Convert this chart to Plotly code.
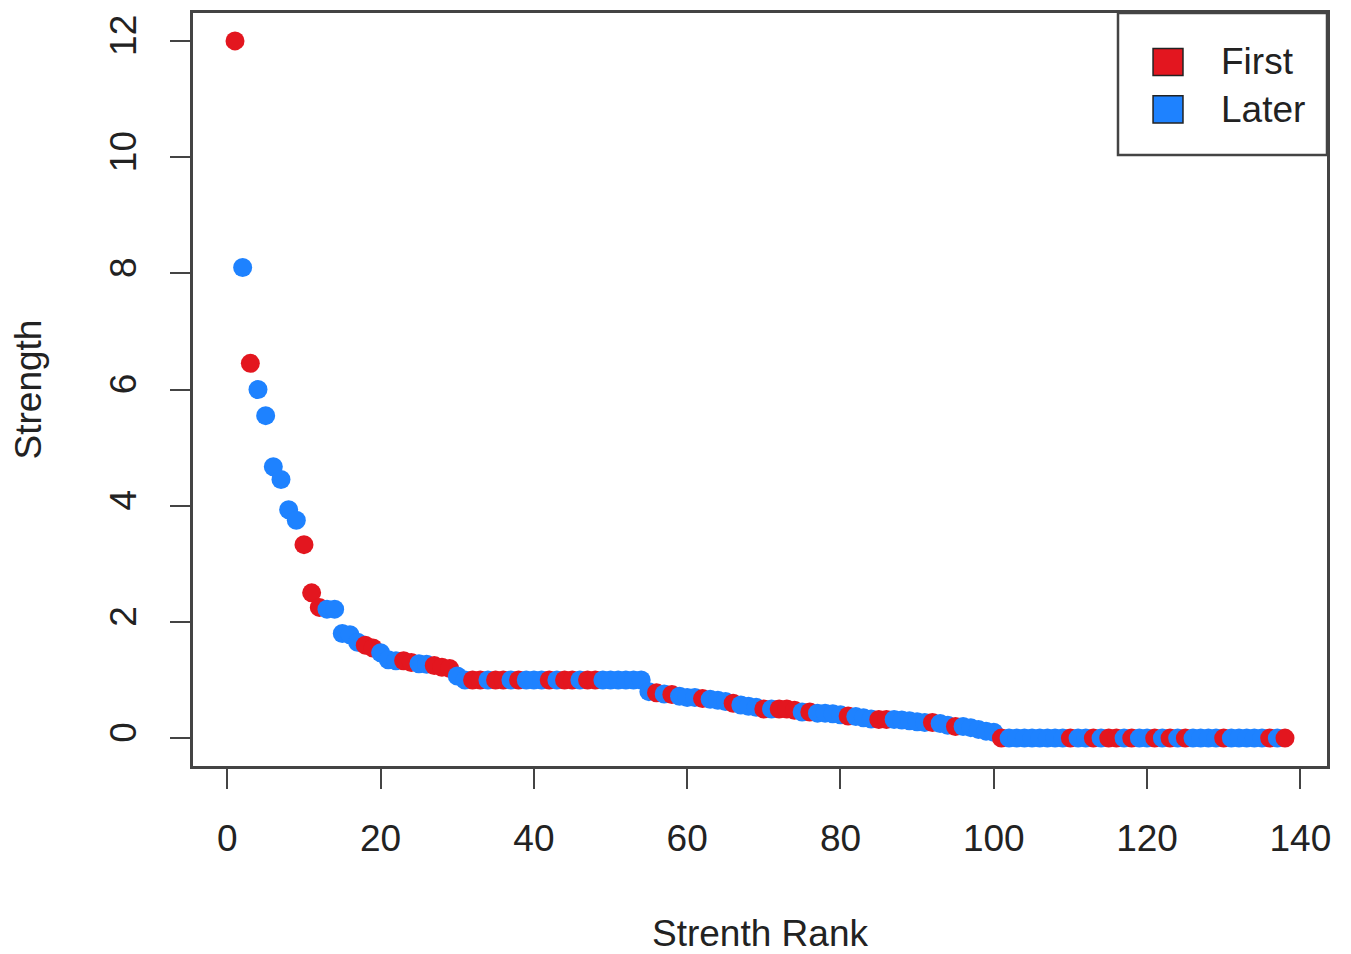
import plotly.graph_objects as go

# ---- data ----
ranks = list(range(1, 139))

strength = [
    12.0, 8.1, 6.45, 6.0, 5.55, 4.67, 4.45, 3.93, 3.75, 3.33,
    2.5, 2.25, 2.22, 2.22, 1.8, 1.78, 1.65, 1.6, 1.55, 1.47,
    1.35, 1.33, 1.33, 1.3, 1.28, 1.27, 1.25, 1.22, 1.2, 1.07,
    1.0, 1.0, 1.0, 1.0, 1.0, 1.0, 1.0, 1.0, 1.0, 1.0,
    1.0, 1.0, 1.0, 1.0, 1.0, 1.0, 1.0, 1.0, 1.0, 1.0,
    1.0, 1.0, 1.0, 1.0, 0.8, 0.78, 0.76, 0.75, 0.72, 0.7,
    0.7, 0.68, 0.67, 0.65, 0.63, 0.6, 0.57, 0.55, 0.53, 0.5,
    0.5, 0.5, 0.5, 0.48, 0.45, 0.45, 0.43, 0.43, 0.42, 0.4,
    0.38, 0.37, 0.35, 0.33, 0.32, 0.32, 0.32, 0.31, 0.3, 0.28,
    0.27, 0.27, 0.25, 0.22, 0.2, 0.2, 0.18, 0.15, 0.12, 0.1,
    0.0, 0.0, 0.0, 0.0, 0.0, 0.0, 0.0, 0.0, 0.0, 0.0,
    0.0, 0.0, 0.0, 0.0, 0.0, 0.0, 0.0, 0.0, 0.0, 0.0,
    0.0, 0.0, 0.0, 0.0, 0.0, 0.0, 0.0, 0.0, 0.0, 0.0,
    0.0, 0.0, 0.0, 0.0, 0.0, 0.0, 0.0, 0.0,
]

# F = First, L = Later (one code per rank)
group = list(
    "FLFLLLLLLF"   # 1-10
    "FFLLLLLFFL"   # 11-20
    "LLFFLLFFFL"   # 21-30
    "LFFLFFLFLL"   # 31-40
    "LFLFFLFFLL"   # 41-50
    "LLLLLFLFLL"   # 51-60
    "LFLLLFLLLF"   # 61-70
    "LFFFLFLLLL"   # 71-80
    "FLLLFFLLLL"   # 81-90
    "LFLLFLLLLL"   # 91-100
    "FLLLLLLLLF"   # 101-110
    "LLFLFFLFLL"   # 111-120
    "FLFLFLLLLF"   # 121-130
    "LLLLLFLF"     # 131-138
)

group_names = {"F": "First", "L": "Later"}
group_colors = {"F": "#E3161F", "L": "#1E82FF"}

x_ticks = [0, 20, 40, 60, 80, 100, 120, 140]
y_ticks = [0, 2, 4, 6, 8, 10, 12]

FONT = "Liberation Sans, Arial, Helvetica, sans-serif"
AX = "#444444"
TXT = "#222222"

fig = go.Figure()
fig.add_trace(go.Scatter(
    x=ranks, y=strength, mode="markers",
    marker=dict(size=19, color=[group_colors[g] for g in group], line=dict(width=0)),
    text=[group_names[g] for g in group],
    showlegend=False,
))

axis_common = dict(
    showgrid=False, zeroline=False, showline=True, mirror=True, automargin=False,
    linecolor=AX, linewidth=2.5, ticks="outside", ticklen=20, tickwidth=2,
    tickcolor=AX, tickfont=dict(size=37, color=TXT, family=FONT),
)

# the html page body adds an 8px offset, so the figure is 8px smaller each way
fig.update_layout(
    width=1343, height=946,
    margin=dict(l=185, r=24, t=5, b=188, autoexpand=False),
    paper_bgcolor="white", plot_bgcolor="white",
    font=dict(family=FONT, color=TXT),
    showlegend=False,
    xaxis=dict(
        range=[-4.48, 143.48], tickvals=x_ticks, ticktext=[str(v) for v in x_ticks],
        ticklabelstandoff=18,
        title=dict(text="Strenth Rank", font=dict(size=37, color=TXT), standoff=62),
        **axis_common,
    ),
    yaxis=dict(
        range=[-0.48, 12.48], tickvals=y_ticks, ticktext=[str(v) for v in y_ticks],
        tickangle=-90, ticklabelstandoff=19,
        title=dict(text="Strength", font=dict(size=37, color=TXT), standoff=52),
        **axis_common,
    ),
)

# legend box drawn like the R legend (top-right, square keys)
fig.add_shape(type="rect", xref="paper", yref="paper",
              x0=0.8157, x1=1.0, y0=0.8114, y1=1.0,
              line=dict(color=AX, width=2.5), fillcolor="white", layer="above")
leg_rows = [("F", 0.935), ("L", 0.872)]
for code, yc in leg_rows:
    fig.add_shape(type="rect", xref="paper", yref="paper",
                  x0=0.8466, x1=0.8730, y0=yc - 0.018, y1=yc + 0.018,
                  line=dict(color="#222222", width=1.5), fillcolor=group_colors[code],
                  layer="above")
    fig.add_annotation(xref="paper", yref="paper", x=0.905, y=yc,
                       text=group_names[code], showarrow=False, xanchor="left",
                       yanchor="middle", font=dict(size=37, color=TXT, family=FONT))

fig.write_html("out.html")
